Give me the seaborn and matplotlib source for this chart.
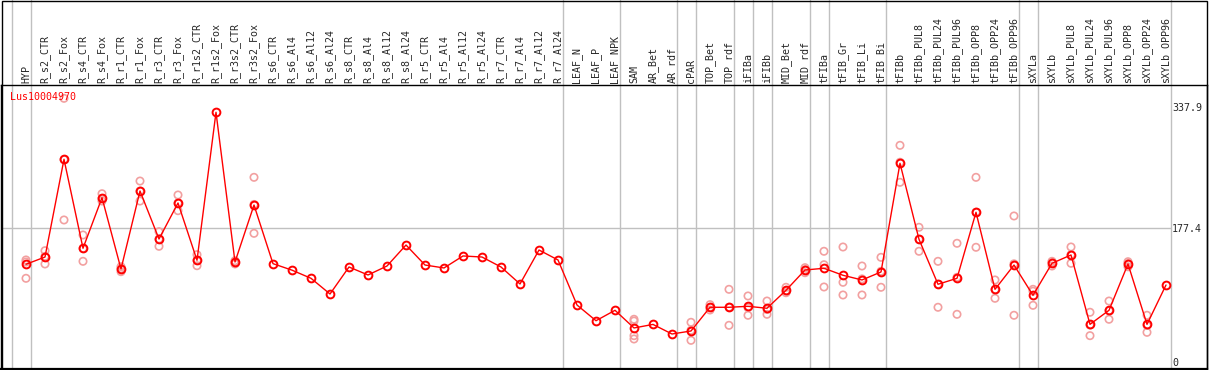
import pandas as pd
import matplotlib
matplotlib.use('Agg')
import matplotlib.pyplot as plt
import seaborn as sns
from matplotlib.patches import Rectangle

# Sample names (top labels)
samples = ['HYP', 'R_s2_CTR', 'R_s2_Fox', 'R_s4_CTR', 'R_s4_Fox', 'R_r1_CTR', 'R_r1_Fox',
           'R_r3_CTR', 'R_r3_Fox', 'R_r1s2_CTR', 'R_r1s2_Fox', 'R_r3s2_CTR', 'R_r3s2_Fox',
           'R_s6_CTR', 'R_s6_Al4', 'R_s6_Al12', 'R_s6_Al24', 'R_s8_CTR', 'R_s8_Al4',
           'R_s8_Al12', 'R_s8_Al24', 'R_r5_CTR', 'R_r5_Al4', 'R_r5_Al12', 'R_r5_Al24',
           'R_r7_CTR', 'R_r7_Al4', 'R_r7_Al12', 'R_r7_Al24', 'LEAF_N', 'LEAF_P', 'LEAF_NPK',
           'SAM', 'AR_Bet', 'AR_rdf', 'cPAR', 'TOP_Bet', 'TOP_rdf', 'iFIBa', 'iFIBb',
           'MID_Bet', 'MID_rdf', 'tFIBa', 'tFIB_Gr', 'tFIB_Li', 'tFIB_Bi', 'tFIBb',
           'tFIBb_PUL8', 'tFIBb_PUL24', 'tFIBb_PUL96', 'tFIBb_OPP8', 'tFIBb_OPP24',
           'tFIBb_OPP96', 'sXYLa', 'sXYLb', 'sXYLb_PUL8', 'sXYLb_PUL24', 'sXYLb_PUL96',
           'sXYLb_OPP8', 'sXYLb_OPP24', 'sXYLb_OPP96']

# mean expression per sample
means = [129.9, 139.5, 269.0, 151.1, 218.1, 123.6, 227.0, 163.4, 211.1, 135.2, 331.3,
         132.9, 208.4, 130.7, 122.1, 111.3, 90.5, 126.3, 115.7, 127.6, 155.4, 128.9,
         125.0, 140.9, 139.5, 126.3, 103.8, 148.8, 135.6, 75.9, 55.1, 68.9, 45.5, 50.2,
         37.5, 41.5, 72.9, 72.9, 74.2, 71.6, 95.4, 122.3, 124.6, 115.3, 109.1, 119.7,
         263.7, 163.0, 103.4, 111.3, 198.8, 96.7, 128.9, 88.8, 131.2, 142.2, 50.3, 68.9,
         130.3, 50.3, 102.4]

# replicate values per sample (empty = not shown)
replicates = [
    [135.6, 132.9, 111.3], [147.9, 130.3, 140.3], [349.8, 188.6, 268.6],
    [168.7, 133.8, 150.8], [223.4, 213.7, 217.2], [126.7, 120.1, 124.0],
    [240.2, 213.7, 227.0], [173.1, 153.7, 163.4], [221.7, 200.9, 211.1],
    [142.6, 128.0, 135.2], [], [130.3, 134.6, 132.9], [245.1, 170.9, 209.2],
    [], [], [], [], [], [], [], [], [], [], [], [], [], [], [], [], [], [], [],
    [57.0, 54.7, 35.3, 30.9], [], [], [53.0, 29.1, 42.4],
    [76.4, 69.3, 72.9], [96.7, 49.0, 73.0], [87.9, 62.3, 72.4], [81.2, 63.6, 70.0],
    [99.4, 92.2, 94.6], [125.4, 118.7, 122.8], [147.1, 129.3, 99.8],
    [152.8, 106.0, 89.2], [127.6, 89.2, 110.5], [139.1, 99.4, 120.6],
    [287.5, 238.5, 265.1], [178.9, 147.1, 163.0], [133.8, 72.9, 103.5],
    [157.7, 63.6, 112.6], [245.1, 152.4, 198.9], [109.1, 84.8, 96.2],
    [193.9, 62.3, 130.5], [96.7, 75.5, 94.2], [133.8, 127.6, 132.2],
    [152.8, 131.2, 142.6], [66.3, 35.3, 49.3], [81.2, 57.0, 68.5],
    [133.3, 131.0, 126.6], [62.3, 39.7, 48.9], [],
]

# last sample index of each tissue group (grey separators)
group_ends = [-1, 0, 28, 31, 34, 35, 37, 38, 39, 41, 42, 45, 52, 53, 60]
yticks = [0, 177.4, 337.9]
gene = 'Lus10004970'

df_mean = pd.DataFrame({'idx': range(len(samples)), 'value': means})
rows = [(i, v) for i, r in enumerate(replicates) for v in r]
df_rep = pd.DataFrame(rows, columns=['idx', 'value'])

sns.set_style('white')
plt.rcParams['font.family'] = ['DejaVu Sans Mono']
plt.rcParams['font.size'] = 7.2

W, H = 1209, 370
fig = plt.figure(figsize=(W / 100, H / 100), dpi=100)
ax = fig.add_axes([1 / W, (H - 369) / H, 1206 / W, 284 / H])

grey = '#c0c0c0'
ax.set_xlim(-25 / 19, -25 / 19 + 1206 / 19)
ax.set_ylim(-8.88, 367.45)

for g in group_ends:
    ax.axvline(g + 0.26, ymin=0, ymax=369 / 284, color=grey, lw=1, clip_on=False, zorder=1)
ax.hlines(177.4, -25 / 19, 60.26, color=grey, lw=1, zorder=1)

sns.scatterplot(data=df_rep, x='idx', y='value', ax=ax, marker='o', s=28,
                facecolor='none', edgecolor='#f2a0a0', linewidth=1.2, zorder=2)
sns.lineplot(data=df_mean, x='idx', y='value', ax=ax, color='red', lw=1,
             marker='o', markersize=5.6, markerfacecolor='none',
             markeredgecolor='red', markeredgewidth=1.4, zorder=3)

ax.set_xticks(range(len(samples)))
ax.set_xticklabels(samples, rotation=90, va='bottom')
ax.tick_params(axis='x', top=True, bottom=False, labeltop=True, labelbottom=False,
               length=0, pad=1.5)
ax.yaxis.tick_right()
ax.set_yticks(yticks)
ax.set_yticklabels(['0', '177.4', '337.9'])
ax.tick_params(axis='y', length=0, pad=-25.2)
ax.set_xlabel('')
ax.set_ylabel('')

for s in ax.spines.values():
    s.set_color('black')
    s.set_linewidth(1)
ax.spines['bottom'].set_linewidth(1.6)

ax.text(9 / 1206, (369 - 97.5) / 284, gene, color='red', transform=ax.transAxes,
        ha='left', va='center', fontsize=7.2)

fig.add_artist(Rectangle((1.5 / W, 1 / H), 1205 / W, 368.5 / H, transform=fig.transFigure,
                         fill=False, edgecolor='black', lw=1))

fig.savefig('out.png', dpi=100)
